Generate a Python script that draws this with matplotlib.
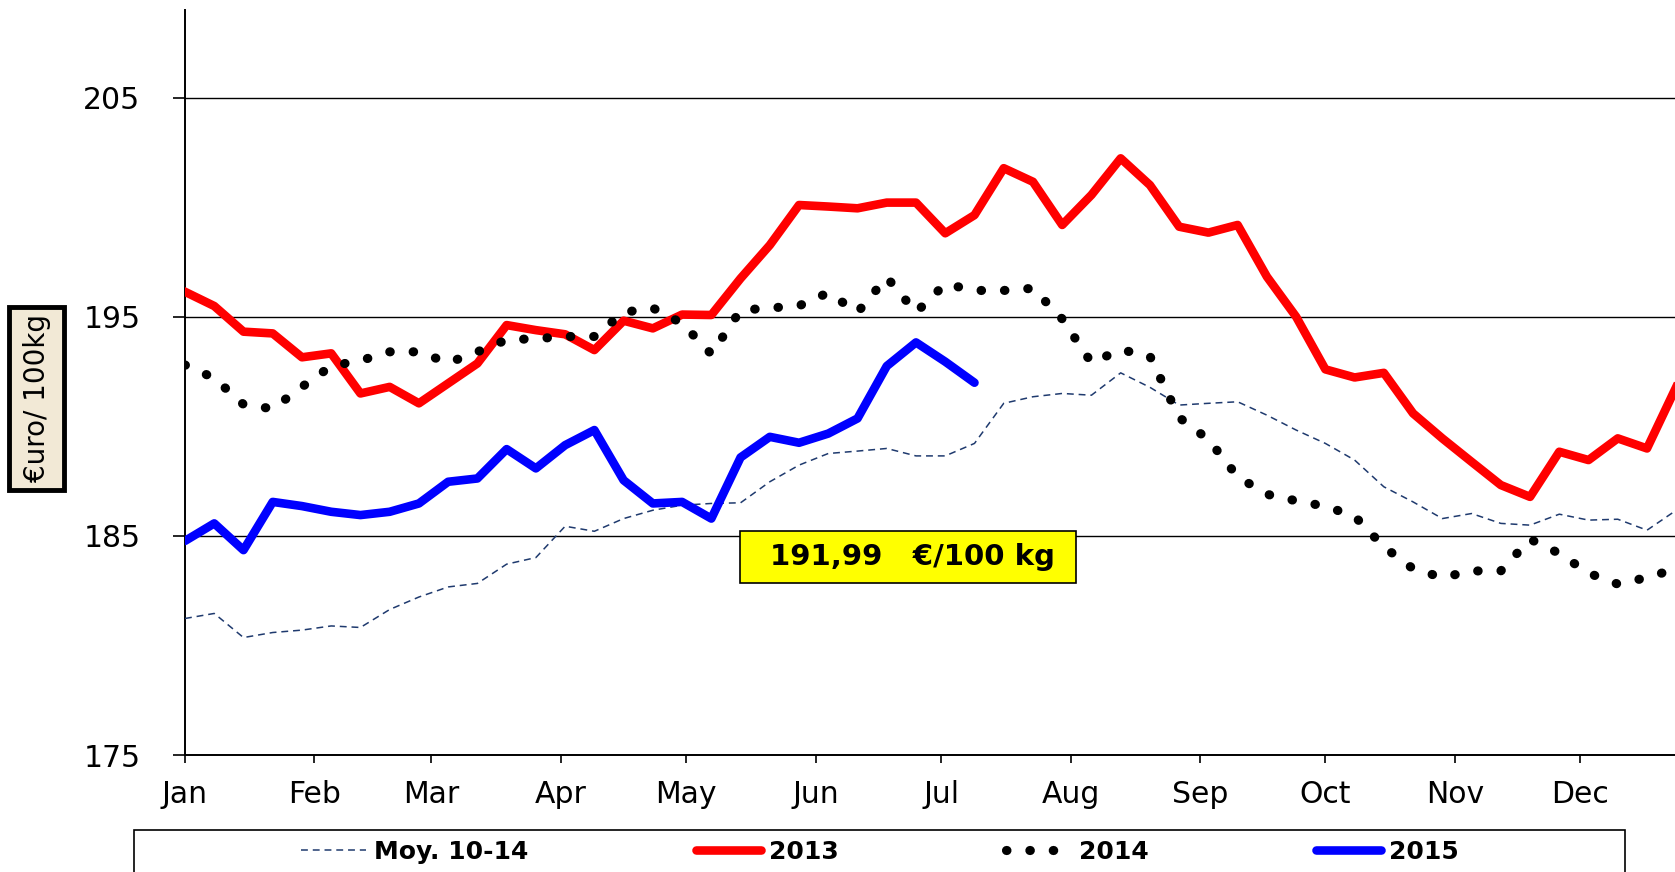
import matplotlib
matplotlib.use("Agg")
import matplotlib.pyplot as plt
from matplotlib.lines import Line2D
from matplotlib.patches import Rectangle
import numpy as np

# weekly prices, euro / 100 kg (week 1 = first week of January)
moy_10_14 = [181.23, 181.46, 180.36, 180.59, 180.70, 180.89, 180.82, 181.64, 182.21, 182.67,
             182.83, 183.71, 184.01, 185.44, 185.21, 185.79, 186.17, 186.40, 186.48, 186.51,
             187.47, 188.23, 188.76, 188.87, 188.99, 188.65, 188.65, 189.22, 191.05, 191.35,
             191.50, 191.42, 192.44, 191.78, 190.97, 191.05, 191.12, 190.51, 189.83, 189.22,
             188.46, 187.24, 186.55, 185.79, 186.02, 185.57, 185.49, 185.99, 185.72, 185.76,
             185.26, 186.17]
y2013 = [196.14, 195.49, 194.32, 194.24, 193.15, 193.33, 191.50, 191.80, 191.05, 191.96,
         192.87, 194.62, 194.39, 194.20, 193.48, 194.82, 194.47, 195.10, 195.08, 196.75,
         198.27, 200.10, 200.03, 199.95, 200.21, 200.21, 198.81, 199.64, 201.78, 201.16,
         199.19, 200.56, 202.23, 201.01, 199.11, 198.84, 199.19, 196.83, 195.00, 192.60,
         192.23, 192.44, 190.59, 189.45, 188.38, 187.32, 186.78, 188.84, 188.46, 189.45,
         188.99, 191.80]
y2014 = [192.8, 192.2, 191.0, 190.8, 191.8, 192.75, 193.0, 193.4, 193.4, 192.9,
         193.4, 193.95, 194.0, 194.1, 194.1, 195.2, 195.4, 194.7, 193.3, 195.3,
         195.4, 195.5, 196.1, 195.2, 196.8, 195.2, 196.5, 196.2, 196.2, 196.3,
         194.9, 192.9, 193.5, 193.2, 190.4, 189.4, 187.7, 186.9, 186.6, 186.35,
         185.9, 184.5, 183.5, 183.1, 183.4, 183.4, 184.85, 184.2, 183.3, 182.8,
         183.1, 183.5]
y2015 = [184.77, 185.57, 184.35, 186.55, 186.36, 186.10, 185.95, 186.10, 186.48, 187.47,
         187.62, 188.96, 188.08, 189.14, 189.83, 187.54, 186.48, 186.55, 185.79, 188.58,
         189.52, 189.25, 189.67, 190.36, 192.75, 193.83, 192.95, 191.99]

months = ['Jan', 'Feb', 'Mar', 'Apr', 'May', 'Jun', 'Jul', 'Aug', 'Sep', 'Oct', 'Nov', 'Dec']
month_start = [0, 31, 59, 90, 120, 151, 181, 212, 243, 273, 304, 334]

plt.rcParams['font.family'] = 'DejaVu Sans'

fig = plt.figure(figsize=(16.75, 8.72), dpi=100)
ax = fig.add_axes([185 / 1675, 117 / 872, 1 - 185 / 1675, (862 - 117) / 872])

def days(vals):
    return 7 * np.arange(len(vals))

DOTS = (0.05, 2.5)

ax.plot(days(moy_10_14), moy_10_14, color='#1F3A6E', lw=1.1, dashes=(4.5, 3.2), zorder=3)
ax.plot(days(y2013), y2013, color='#FF0000', lw=6.2, solid_joinstyle='round', zorder=4)
ax.plot(days(y2014), y2014, color='black', lw=6.6, dashes=DOTS,
        dash_capstyle='round', zorder=5)
ax.plot(days(y2015), y2015, color='#0000FF', lw=6.2, solid_joinstyle='round',
        solid_capstyle='round', zorder=6)

ax.set_xlim(0, 356.7)
ax.set_ylim(175, 209)
ax.set_yticks([175, 185, 195, 205])
ax.set_xticks(month_start)
ax.set_xticklabels(months)
ax.tick_params(axis='y', labelsize=21.5, length=8.6, width=1.2, pad=23.5, direction='out')
ax.tick_params(axis='x', labelsize=21.5, length=5.8, width=1.2, pad=12, direction='out')
ax.grid(axis='y', color='black', lw=1.0)
ax.set_axisbelow(True)
for side in ['top', 'right']:
    ax.spines[side].set_visible(False)
for side in ['left', 'bottom']:
    ax.spines[side].set_linewidth(1.4)
ax.spines['bottom'].set_zorder(7)

# latest price box
last = f"{y2015[-1]:.2f}".replace('.', ',')
ax.add_patch(Rectangle((132.9, 182.87), 80.4, 2.36, facecolor='#FFFF00',
                       edgecolor='black', lw=1.2, zorder=8))
ax.text(174.2, 184.03, f"{last}   €/100 kg", ha='center', va='center',
        fontsize=21, fontweight='bold', zorder=9)

# y label in its box
fig.patches.append(Rectangle((9.3 / 1675, (872 - 490) / 872), 54.7 / 1675, 183 / 872,
                             transform=fig.transFigure, facecolor='#F2E9D6',
                             edgecolor='black', lw=3.5))
fig.text(37 / 1675, (872 - 398) / 872, '€uro/ 100kg', rotation=90, ha='center',
         va='center', fontsize=20)

# legend with frame
fig.patches.append(Rectangle((134 / 1675, -0.05), (1625 - 134) / 1675, 0.05 + 42 / 872,
                             transform=fig.transFigure, facecolor='white',
                             edgecolor='black', lw=1.2))
handles = [
    Line2D([], [], color='#1F3A6E', lw=1.1, dashes=(4.5, 3.2)),
    Line2D([], [], color='#FF0000', lw=6.2, solid_capstyle='round'),
    Line2D([], [], color='black', lw=6.6, dashes=DOTS, dash_capstyle='round'),
    Line2D([], [], color='#0000FF', lw=6.2, solid_capstyle='round'),
]
fig.legend(handles, ['Moy. 10-14', '2013', '2014', '2015'], loc='center',
           bbox_to_anchor=(880 / 1675, 20 / 872), ncol=4, frameon=False,
           prop={'size': 18, 'weight': 'bold'}, handlelength=2.6,
           handletextpad=0.32, columnspacing=6.7, borderpad=0)

fig.savefig('out.png', dpi=100)
